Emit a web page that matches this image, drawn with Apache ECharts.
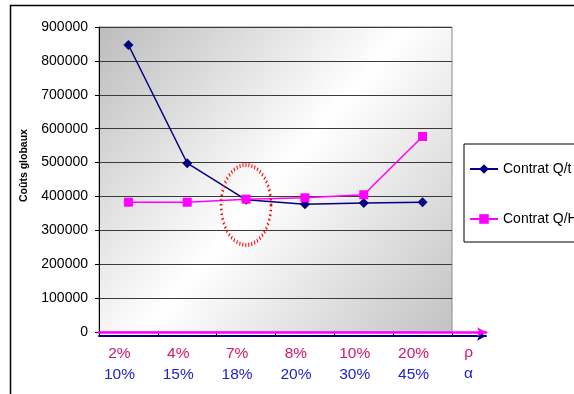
<!DOCTYPE html>
<html>
<head>
<meta charset="utf-8">
<script src="https://cdn.jsdelivr.net/npm/echarts@6/dist/echarts.min.js"></script>
<style>html,body{margin:0;padding:0;background:#fff;}#c{width:574px;height:394px;}</style>
</head>
<body>
<div id="c"></div>
<script>
const rhoLabels = ['2%', '4%', '7%', '8%', '10%', '20%'];
const alphaLabels = ['10%', '15%', '18%', '20%', '30%', '45%'];
const contratQt = [847000, 498000, 390000, 377000, 381000, 383000];
const contratQH = [383000, 383000, 392000, 396000, 405000, 577000];
const yTicks = { min: 0, max: 900000, interval: 100000 };
const seriesNames = ['Contrat Q/t', 'Contrat Q/H'];
const axisSymbols = ['ρ', 'α'];
const ellipseAt = { index: 2, value: 375000 };

const FONT = 'Liberation Sans, Arial, sans-serif';
const PINK_TXT = '#D4146A';
const BLUE_TXT = '#2222CC';

const chart = echarts.init(document.getElementById('c'), null, { renderer: 'canvas' });
const cats = rhoLabels.map((r, i) => r + '\n' + alphaLabels[i]);

const gridBox = { left: 99, top: 27, right: 122, bottom: 62 };

chart.setOption({
  animation: false,
  backgroundColor: '#fff',
  textStyle: { fontFamily: FONT },
  grid: [
    Object.assign({}, gridBox, {
      show: true, borderColor: '#8a8a8a', borderWidth: 1,
      backgroundColor: new echarts.graphic.LinearGradient(0, 0, 1, 1, [
        { offset: 0, color: '#bcbcbc' },
        { offset: 0.5, color: '#ffffff' },
        { offset: 1, color: '#c2c2c2' }
      ])
    }),
    { left: 99, top: 27, right: 88, bottom: 62 }
  ],
  legend: {
    orient: 'vertical', left: 464, top: 144,
    borderColor: '#000', borderWidth: 1,
    padding: [18, 10, 16, 5],
    itemWidth: 28, itemHeight: 12, itemGap: 36,
    textStyle: { fontFamily: FONT, fontSize: 14, color: '#000' },
    data: seriesNames
  },
  xAxis: [
    {
      gridIndex: 0, type: 'category', data: cats, boundaryGap: true,
      axisLine: { show: false },
      axisTick: { show: true, length: 4, lineStyle: { color: '#000' } },
      splitLine: { show: false },
      axisLabel: {
        margin: 11, interval: 0,
        formatter: function (v) {
          const p = v.split('\n');
          return '{p|' + p[0] + '}\n{b|' + p[1] + '}';
        },
        rich: {
          p: { color: PINK_TXT, fontSize: 15.5, fontFamily: FONT, lineHeight: 21, padding: [0, 18, 0, 0] },
          b: { color: BLUE_TXT, fontSize: 15.5, fontFamily: FONT, lineHeight: 21, padding: [0, 18, 0, 0] }
        }
      }
    },
    {
      gridIndex: 1, type: 'value', min: 0, max: 1, position: 'bottom', offset: 4, z: 5,
      axisLine: { show: true, onZero: false, symbol: ['none', 'arrow'], symbolSize: [7, 9], lineStyle: { color: '#000080', width: 2 } },
      axisTick: { show: false }, axisLabel: { show: false }, splitLine: { show: false }
    },
    {
      gridIndex: 1, type: 'value', min: 0, max: 1, position: 'bottom', offset: 0, z: 6,
      axisLine: { show: true, onZero: false, symbol: ['none', 'arrow'], symbolSize: [7, 9], lineStyle: { color: '#FF00FF', width: 2.5 } },
      axisTick: { show: false }, axisLabel: { show: false }, splitLine: { show: false }
    }
  ],
  yAxis: [
    {
      gridIndex: 0, type: 'value', min: yTicks.min, max: yTicks.max, interval: yTicks.interval,
      name: 'Coûts globaux', nameLocation: 'middle', nameGap: 69, nameRotate: 90,
      nameTextStyle: { fontFamily: FONT, fontSize: 10.5, fontWeight: 'bold', color: '#000', padding: [0, 0, 0, 28] },
      axisLine: { show: true, lineStyle: { color: '#000', width: 1 } },
      axisTick: { show: true, length: 4, lineStyle: { color: '#000' } },
      axisLabel: { margin: 11, fontSize: 14, fontFamily: FONT, color: '#000', formatter: function (v) { return String(v); } },
      splitLine: { show: true, lineStyle: { color: '#3a3a3a', width: 1 } }
    },
    { gridIndex: 1, type: 'value', show: false, min: 0, max: 1 }
  ],
  series: [
    {
      name: seriesNames[0], type: 'line', xAxisIndex: 0, yAxisIndex: 0, data: contratQt,
      symbol: 'diamond', symbolSize: 10, z: 3,
      itemStyle: { color: '#000080' }, lineStyle: { color: '#000080', width: 1.5 }
    },
    {
      name: seriesNames[1], type: 'line', xAxisIndex: 0, yAxisIndex: 0, data: contratQH,
      symbol: 'rect', symbolSize: 9, z: 4,
      itemStyle: { color: '#FF00FF' }, lineStyle: { color: '#FF00FF', width: 1.5 }
    }
  ]
});

const c = chart.convertToPixel({ gridIndex: 0 }, [ellipseAt.index, ellipseAt.value]);
const symX = chart.convertToPixel({ gridIndex: 0 }, [5, 0])[0] + 46;
const baseY = chart.convertToPixel({ gridIndex: 0 }, [0, 0])[1];

chart.setOption({
  graphic: [
    { type: 'rect', shape: { x: 10.5, y: 5.5, width: 620, height: 420 }, style: { fill: 'none', stroke: '#000', lineWidth: 1.5 }, silent: true, z: 0 },
    { type: 'circle', x: c[0], y: c[1], scaleX: 25 / 40, shape: { cx: 0, cy: 0, r: 40 },
      style: { fill: 'none', stroke: '#FF0000', lineWidth: 4, lineDash: [1.6, 3.2] }, z: 10 },
    { type: 'text', x: symX, y: baseY + 21, style: { text: axisSymbols[0], fill: PINK_TXT, font: '15.5px ' + FONT, textAlign: 'center', textVerticalAlign: 'middle' } },
    { type: 'text', x: symX, y: baseY + 42, style: { text: axisSymbols[1], fill: BLUE_TXT, font: '15.5px ' + FONT, textAlign: 'center', textVerticalAlign: 'middle' } }
  ]
});
</script>
</body>
</html>
